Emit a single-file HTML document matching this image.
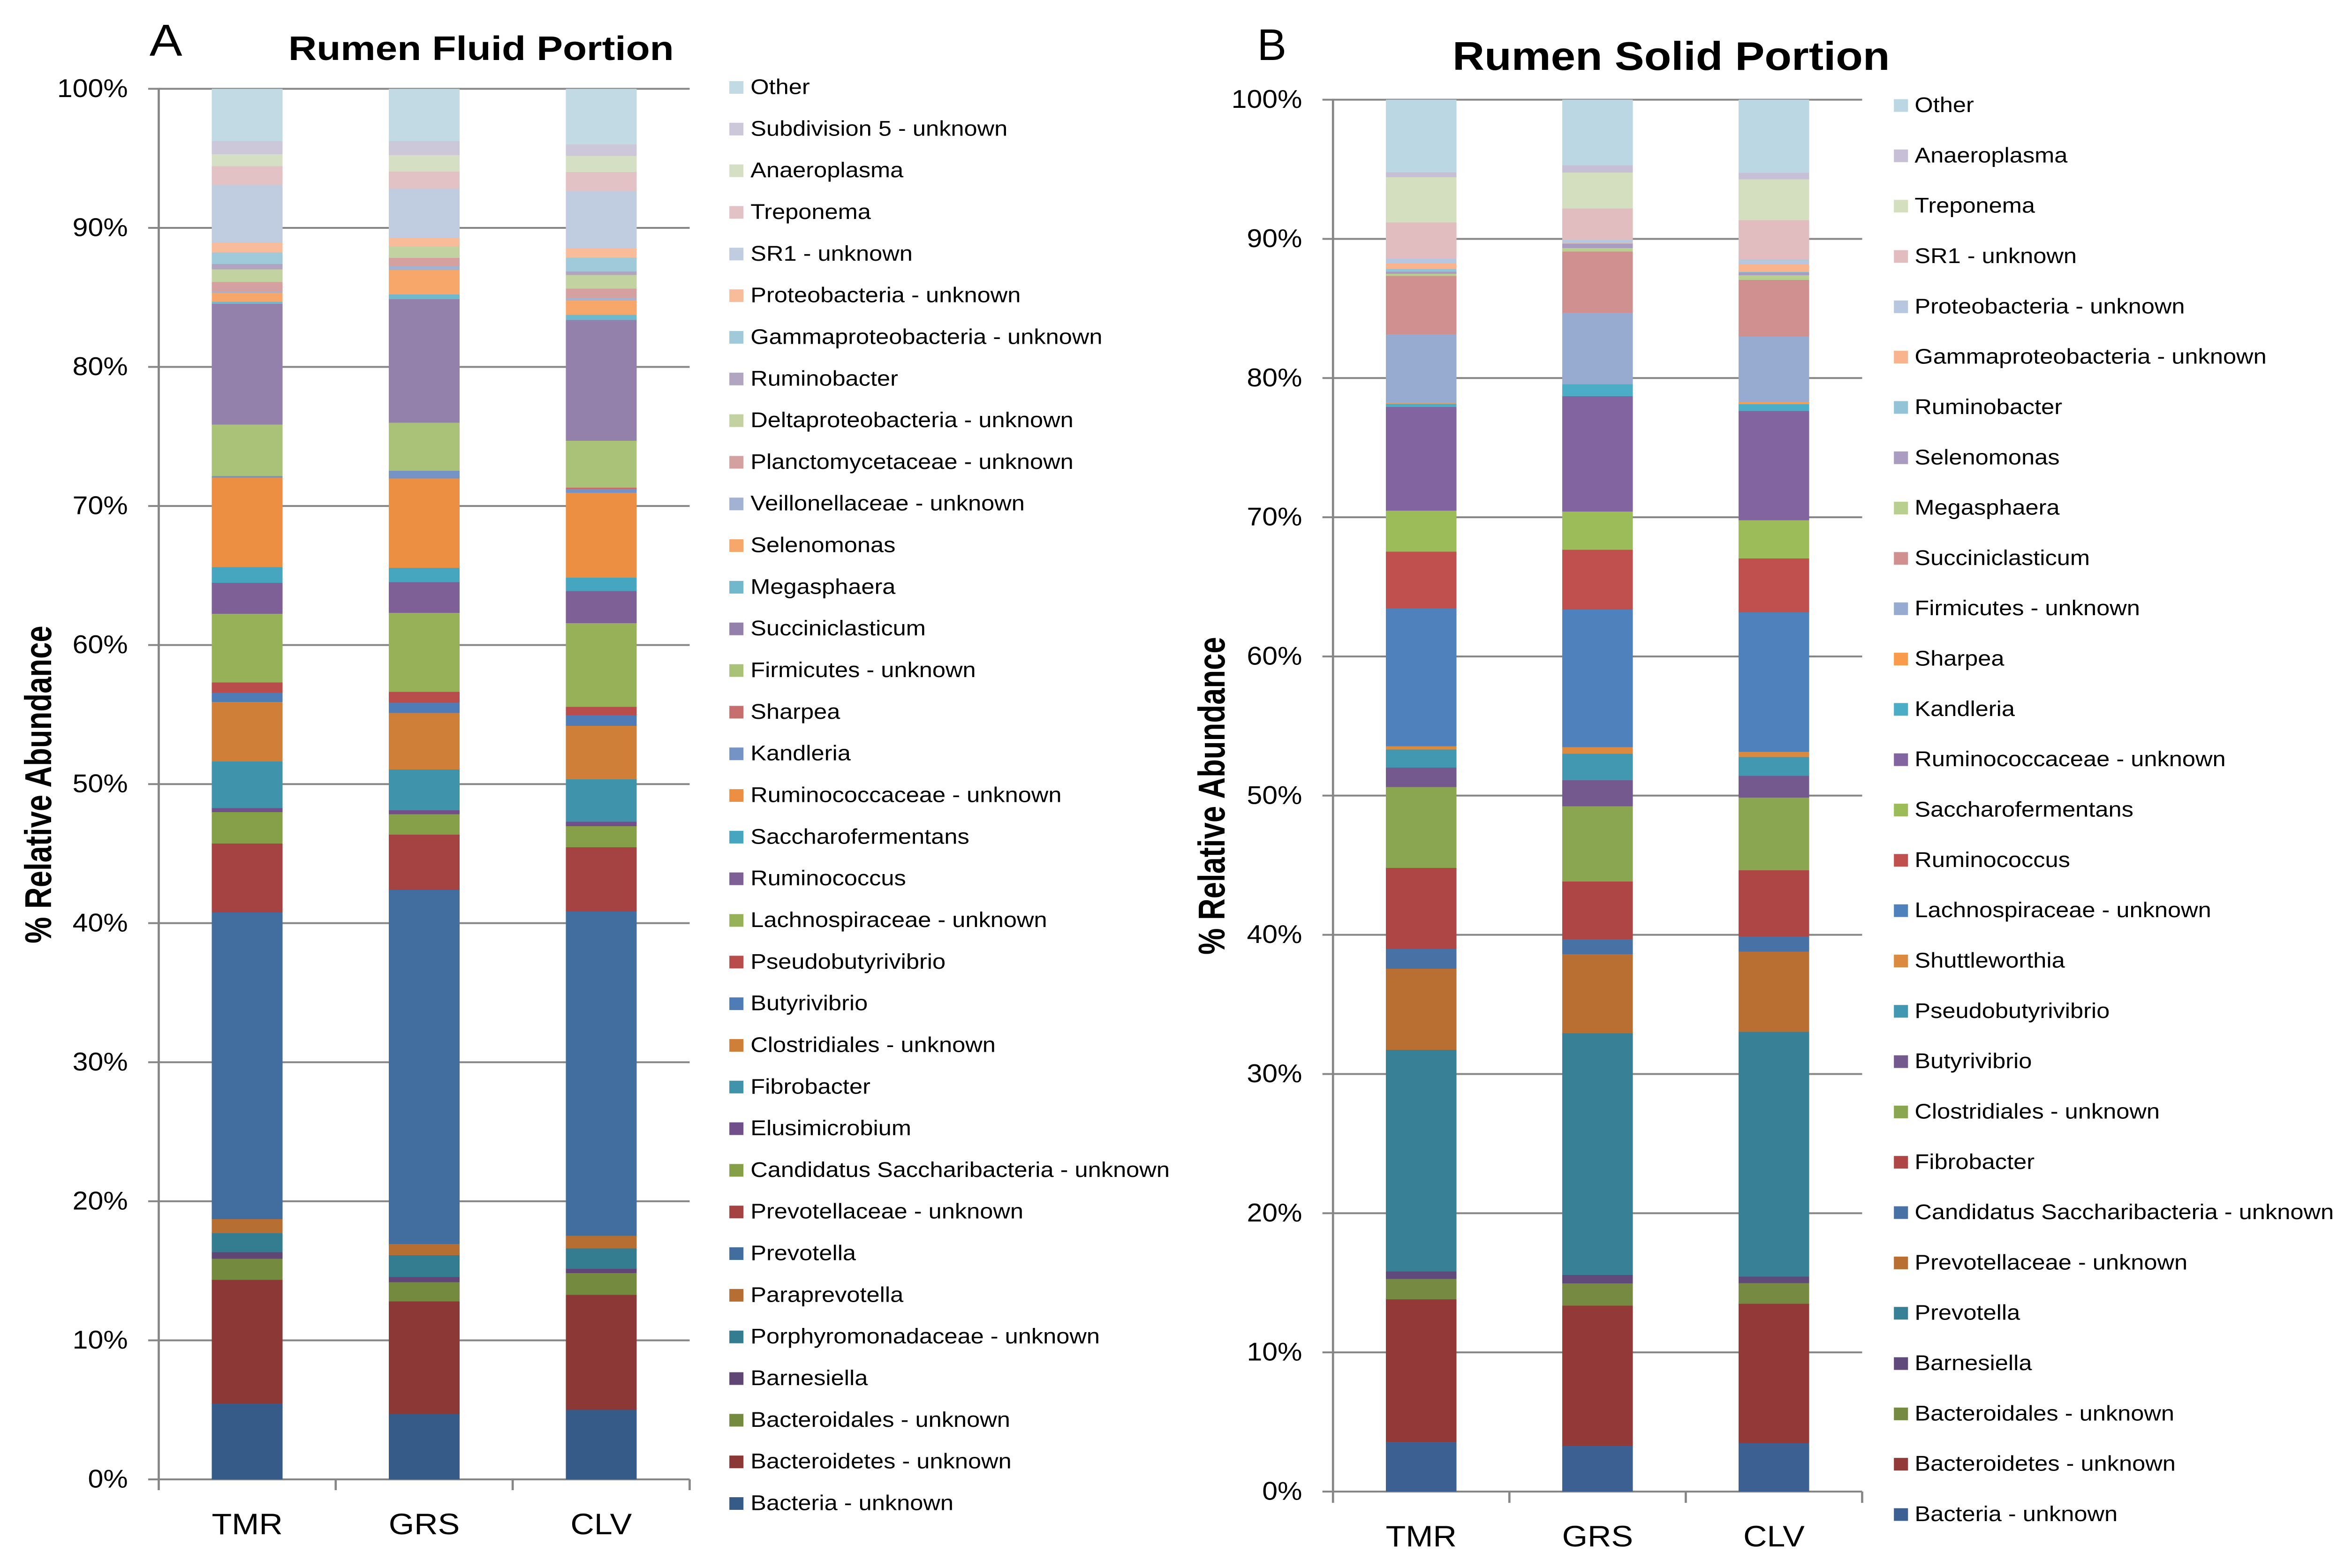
<!DOCTYPE html>
<html lang="en">
<head>
<meta charset="utf-8">
<title>Rumen Fluid and Solid Portion Relative Abundance</title>
<style>
html,body{margin:0;padding:0;background:#fff;width:100%;height:100%;overflow:hidden;}
svg{display:block;width:100vw;height:100vh;}
text{font-family:"Liberation Sans",sans-serif;fill:#000;}
</style>
</head>
<body>
<svg id="figure" xmlns="http://www.w3.org/2000/svg" viewBox="0 0 5318 3344" preserveAspectRatio="none">
  <rect x="0" y="0" width="5318" height="3344" fill="#ffffff"/>
  <text transform="translate(339,119) scale(1.16,1)" font-size="96">A</text>
  <text transform="translate(654,128) scale(1.235,1)" font-size="72" font-weight="bold">Rumen Fluid Portion</text>
  <text transform="translate(116,2012) rotate(-90) scale(0.746,1)" font-size="85" font-weight="bold">% Relative Abundance</text>
  <text transform="translate(2851,128) scale(1.05,1)" font-size="95">B</text>
  <text transform="translate(3294,149) scale(1.18,1)" font-size="85" font-weight="bold">Rumen Solid Portion</text>
  <text transform="translate(2777,2036) rotate(-90) scale(0.746,1)" font-size="85" font-weight="bold">% Relative Abundance</text>
  <g id="panelA"></g>
  <g id="panelB"></g>
</svg>
<script>
// ---- shared axis data ----
const categories = ["TMR", "GRS", "CLV"];
const tickValues = [0, 10, 20, 30, 40, 50, 60, 70, 80, 90, 100];
const tickLabels = ["0%", "10%", "20%", "30%", "40%", "50%", "60%", "70%", "80%", "90%", "100%"];

// ---- Panel A: Rumen Fluid Portion (series listed bottom of stack to top) ----
const fluidSeries = ["Bacteria - unknown", "Bacteroidetes - unknown", "Bacteroidales - unknown", "Barnesiella", "Porphyromonadaceae - unknown", "Paraprevotella", "Prevotella", "Prevotellaceae - unknown", "Candidatus Saccharibacteria - unknown", "Elusimicrobium", "Fibrobacter", "Clostridiales - unknown", "Butyrivibrio", "Pseudobutyrivibrio", "Lachnospiraceae - unknown", "Ruminococcus", "Saccharofermentans", "Ruminococcaceae - unknown", "Kandleria", "Sharpea", "Firmicutes - unknown", "Succiniclasticum", "Megasphaera", "Selenomonas", "Veillonellaceae - unknown", "Planctomycetaceae - unknown", "Deltaproteobacteria - unknown", "Ruminobacter", "Gammaproteobacteria - unknown", "Proteobacteria - unknown", "SR1 - unknown", "Treponema", "Anaeroplasma", "Subdivision 5 - unknown", "Other"];
const fluidTMR = [5.46, 8.89, 1.52, 0.47, 1.36, 1.01, 22.05, 4.96, 2.27, 0.28, 3.36, 4.28, 0.66, 0.73, 4.95, 2.22, 1.13, 6.44, 0.09, 0.02, 3.70, 8.68, 0.16, 0.64, 0.12, 0.66, 0.90, 0.40, 0.81, 0.73, 4.14, 1.35, 0.85, 0.95, 3.76];
const fluidGRS = [4.70, 8.10, 1.38, 0.37, 1.57, 0.81, 25.46, 3.97, 1.47, 0.28, 2.95, 4.05, 0.75, 0.78, 5.68, 2.20, 1.04, 6.41, 0.56, 0, 3.46, 8.89, 0.33, 1.75, 0.31, 0.57, 0.85, 0, 0, 0.59, 3.53, 1.23, 1.18, 1.02, 3.76];
const fluidCLV = [5.00, 8.27, 1.57, 0.30, 1.47, 0.91, 23.31, 4.63, 1.51, 0.33, 3.05, 3.83, 0.76, 0.62, 6.02, 2.30, 0.97, 6.10, 0.26, 0.10, 3.38, 8.68, 0.38, 1.04, 0.19, 0.66, 0.97, 0.26, 0.99, 0.69, 4.09, 1.37, 1.16, 0.83, 4.00];
const fluidColors = ["#365B88", "#8B3836", "#748A3E", "#5F4675", "#347D91", "#B66E32", "#416D9F", "#A54342", "#869F49", "#704F8A", "#3F94AB", "#D07F38", "#4F7CB6", "#B94D4B", "#97B158", "#7E6097", "#46A6BF", "#EC8F43", "#7594C5", "#C76F6D", "#A9C277", "#9380AB", "#72B8CC", "#F8A76B", "#A2B2D4", "#D4A0A0", "#C2D3A1", "#B2A5C2", "#A0C9DA", "#F9BC9A", "#C0CCE0", "#E2C2C4", "#D5DFC4", "#CCC7D9", "#C2DAE3"];

// ---- Panel B: Rumen Solid Portion (series listed bottom of stack to top) ----
const solidSeries = ["Bacteria - unknown", "Bacteroidetes - unknown", "Bacteroidales - unknown", "Barnesiella", "Prevotella", "Prevotellaceae - unknown", "Candidatus Saccharibacteria - unknown", "Fibrobacter", "Clostridiales - unknown", "Butyrivibrio", "Pseudobutyrivibrio", "Shuttleworthia", "Lachnospiraceae - unknown", "Ruminococcus", "Saccharofermentans", "Ruminococcaceae - unknown", "Kandleria", "Sharpea", "Firmicutes - unknown", "Succiniclasticum", "Megasphaera", "Selenomonas", "Ruminobacter", "Gammaproteobacteria - unknown", "Proteobacteria - unknown", "SR1 - unknown", "Treponema", "Anaeroplasma", "Other"];
const solidTMR = [3.57, 10.25, 1.45, 0.54, 15.92, 5.83, 1.42, 5.82, 5.81, 1.40, 1.30, 0.24, 9.90, 4.07, 2.95, 7.45, 0.24, 0.07, 4.91, 4.19, 0.15, 0.16, 0.21, 0.40, 0.31, 2.62, 3.25, 0.36, 5.21];
const solidGRS = [3.27, 10.08, 1.60, 0.62, 17.36, 5.67, 1.09, 4.14, 5.41, 1.87, 1.89, 0.48, 9.88, 4.30, 2.74, 8.30, 0.85, 0, 5.14, 4.39, 0.26, 0.31, 0.02, 0.02, 0.24, 2.26, 2.57, 0.52, 4.72];
const solidCLV = [3.47, 10.03, 1.48, 0.47, 17.58, 5.76, 1.09, 4.75, 5.23, 1.56, 1.35, 0.37, 10.03, 3.87, 2.75, 7.85, 0.49, 0.14, 4.72, 4.06, 0.33, 0.21, 0.05, 0.54, 0.36, 2.80, 2.93, 0.47, 5.26];
const solidColors = ["#3C6091", "#933938", "#768B41", "#604A7B", "#378095", "#B96F31", "#4872A6", "#AD4644", "#8BA650", "#74598F", "#4298B0", "#DB8A40", "#4F81BD", "#C0504D", "#9BBC59", "#8264A0", "#4BADC6", "#F99B4A", "#97AACF", "#D09090", "#B8CF8F", "#AA9BC0", "#92C3D6", "#F9B48E", "#B8C7E0", "#E1BDBF", "#D3DFBF", "#C7BFD6", "#BAD7E3"];

const SVG_NS = "http://www.w3.org/2000/svg";
const AXIS_COLOR = "#868686";

function make(tag, parent) {
  const node = document.createElementNS(SVG_NS, tag);
  parent.appendChild(node);
  return node;
}
function setAll(node, attrs) {
  for (const key in attrs) node.setAttribute(key, attrs[key]);
}
function slug(s) {
  return s.toLowerCase().replace(/[^a-z0-9]+/g, "-").replace(/^-|-$/g, "");
}

function drawPanel(root, prefix, layout, names, columns, colors) {
  const yScale = v => layout.y0 - (v / 100) * (layout.y0 - layout.y100);
  const step = (layout.xRight - layout.xAxis) / categories.length;
  const xBand = i => layout.xAxis + step * i;
  const barWidth = step / 2.5;

  // gridlines and y-axis tick labels
  tickValues.forEach((v, i) => {
    const line = make("line", root);
    setAll(line, { x1: layout.xTick, x2: layout.xRight, y1: yScale(v), y2: yScale(v), stroke: AXIS_COLOR, "stroke-width": 4 });
    
    
    const label = make("text", root);
    setAll(label, { transform: "translate(" + layout.yLabelRight + "," + (yScale(v) + 17.5) + ") scale(1.14,1)", "font-size": 55, "text-anchor": "end" });
    label.textContent = tickLabels[i];
    
    
  });

  // y axis line
  const yAxis = make("line", root);
  setAll(yAxis, { x1: layout.xAxis, x2: layout.xAxis, y1: yScale(100) - 2, y2: layout.tickBottom, stroke: AXIS_COLOR, "stroke-width": 5 });
  
  

  // x axis category ticks
  for (let i = 1; i <= categories.length; i++) {
    const tick = make("line", root);
    setAll(tick, { x1: xBand(i), x2: xBand(i), y1: layout.y0, y2: layout.tickBottom, stroke: AXIS_COLOR, "stroke-width": 5 });
    
    
  }

  // stacked bars
  categories.forEach((cat, c) => {
    const group = make("g", root);
    
    
    const x = xBand(c) + (step - barWidth) / 2;
    let cum = 0;
    columns[c].forEach((value, s) => {
      const top = yScale(cum + value);
      const bottom = yScale(cum);
      cum += value;
      if (value <= 0) return;
      const seg = make("rect", group);
      setAll(seg, { x: x, y: top, width: barWidth, height: bottom - top, fill: colors[s], "shape-rendering": "crispEdges" });
      
      
    });

    const catLabel = make("text", root);
    setAll(catLabel, { transform: "translate(" + (x + barWidth / 2) + "," + layout.catBaseline + ") scale(1.18,1)", "font-size": 63, "text-anchor": "middle" });
    catLabel.textContent = cat;
    
    
  });

  // legend, top entry is the last series
  const legend = make("g", root);
  
  
  const n = names.length;
  const rowStep = (layout.legendLast - layout.legendFirst) / (n - 1);
  for (let s = n - 1; s >= 0; s--) {
    const cy = layout.legendFirst + rowStep * (n - 1 - s);
    const entry = make("g", legend);
    
    
    const swatch = make("rect", entry);
    setAll(swatch, { x: layout.swatchX, y: cy - 13.5, width: 32, height: 27, fill: colors[s] });
    
    
    const text = make("text", entry);
    setAll(text, { transform: "translate(" + layout.legendTextX + "," + (cy + 14) + ") scale(1.195,1)", "font-size": 45 });
    text.textContent = names[s];
    
    
  }
}

drawPanel(document.getElementById("panelA"), "fluid", {
  xAxis: 360, xRight: 1564, xTick: 336, y0: 3155, y100: 189.4, tickBottom: 3178,
  yLabelRight: 290, catBaseline: 3272, swatchX: 1654, legendTextX: 1702, legendFirst: 186.5, legendLast: 3206.5
}, fluidSeries, [fluidTMR, fluidGRS, fluidCLV], fluidColors);

drawPanel(document.getElementById("panelB"), "solid", {
  xAxis: 3023, xRight: 4223, xTick: 2999, y0: 3181, y100: 212.6, tickBottom: 3205,
  yLabelRight: 2953, catBaseline: 3298, swatchX: 4295, legendTextX: 4342, legendFirst: 225, legendLast: 3230
}, solidSeries, [solidTMR, solidGRS, solidCLV], solidColors);
</script>
</body>
</html>
